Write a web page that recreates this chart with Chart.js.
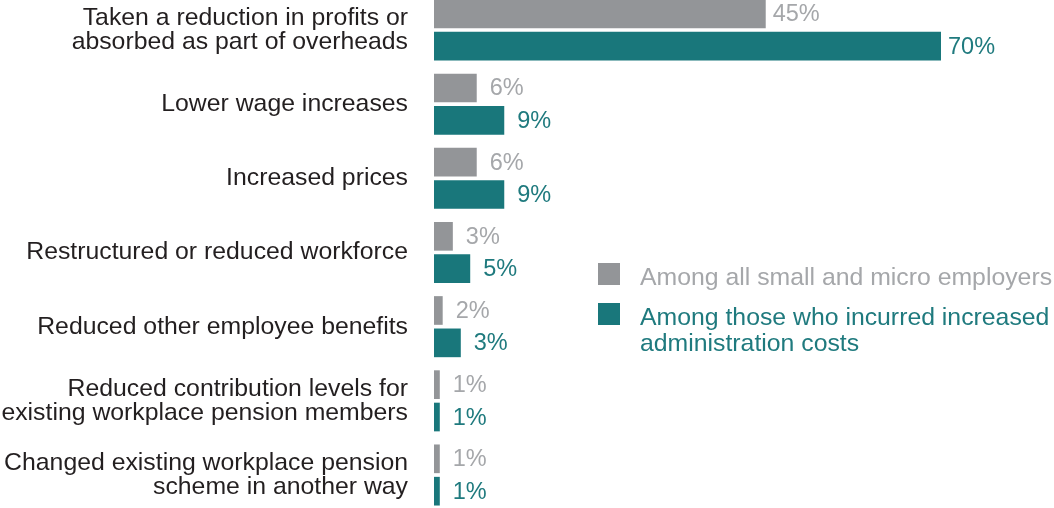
<!DOCTYPE html>
<html>
<head>
<meta charset="utf-8">
<script src="https://cdn.jsdelivr.net/npm/chart.js@4"></script>
<style>
html,body{margin:0;padding:0;background:#fff;}
#wrap{width:1054px;height:508px;position:relative;}
</style>
</head>
<body>
<div id="wrap"><canvas id="chart"></canvas></div>
<script>
// Categories
const categories=[
["Taken a reduction in profits or","absorbed as part of overheads"],
"Lower wage increases",
"Increased prices",
"Restructured or reduced workforce",
"Reduced other employee benefits",
["Reduced contribution levels for","existing workplace pension members"],
["Changed existing workplace pension","scheme in another way"]
];

// Series names (legend lines)
const seriesNames=[
["Among all small and micro employers"],
["Among those who incurred increased","administration costs"]
];

// Bar lengths (%) as drawn
const allEmployers=[45.8,5.9,5.9,2.6,1.2,0.8,0.8];
const adminCosts=[70,9.7,9.7,5.0,3.7,0.8,0.8];

// Printed value labels
const allLabels=["45%","6%","6%","3%","2%","1%","1%"];
const adminLabels=["70%","9%","9%","5%","3%","1%","1%"];

const FONT="'Liberation Sans', Arial, sans-serif";

// Value labels after each bar
const valueLabels={
id:"valueLabels",
afterDatasetsDraw(chart){
const ctx=chart.ctx;
ctx.save();
ctx.font="23.5px "+FONT;
ctx.textAlign="left";
ctx.textBaseline="middle";
chart.data.datasets.forEach((ds,i)=>{
chart.getDatasetMeta(i).data.forEach((bar,j)=>{
ctx.fillStyle=ds.valueColor;
ctx.fillText(ds.valueText[j],bar.x+(j===0?7:13),bar.y+1);
});
});
ctx.restore();
}
};

// Legend on the right
const sideLegend={
id:"sideLegend",
afterDraw(chart){
const ctx=chart.ctx;
ctx.save();
ctx.font="24.8px "+FONT;
ctx.textAlign="left";
ctx.textBaseline="alphabetic";
let y=263;
chart.data.datasets.forEach(ds=>{
ctx.fillStyle=ds.backgroundColor;
ctx.fillRect(598,y,22,22);
ctx.fillStyle=ds.valueColor;
ds.legendLines.forEach((line,k)=>ctx.fillText(line,640,y+21.5+k*26.7));
y+=40;
});
ctx.restore();
}
};

new Chart(document.getElementById("chart"),{
type:"bar",
data:{
labels:categories,
datasets:[
{label:seriesNames[0].join(" "),data:allEmployers,backgroundColor:"#939598",valueColor:"#a5a7aa",valueText:allLabels,legendLines:seriesNames[0],clip:false,categoryPercentage:0.873,barPercentage:0.886},
{label:seriesNames[1].join(" "),data:adminCosts,backgroundColor:"#19777b",valueColor:"#1f7a7e",valueText:adminLabels,legendLines:seriesNames[1],clip:false,categoryPercentage:0.873,barPercentage:0.886}
]
},
options:{
indexAxis:"y",
responsive:true,
maintainAspectRatio:false,
animation:false,
layout:{padding:{top:30,bottom:33,left:0,right:113}},
plugins:{legend:{display:false},tooltip:{enabled:false}},
scales:{
x:{display:false,min:0,max:70},
y:{
offset:false,
grid:{display:false,drawTicks:false},
border:{display:false},
ticks:{autoSkip:false,padding:26,color:"#231f20",font:{family:FONT,size:24.8,lineHeight:"24px"}},
afterFit(scale){
scale.width=434;
scale.paddingTop=0;
scale.paddingBottom=0;
}
}
}
},
plugins:[valueLabels,sideLegend]
});
</script>
</body>
</html>
